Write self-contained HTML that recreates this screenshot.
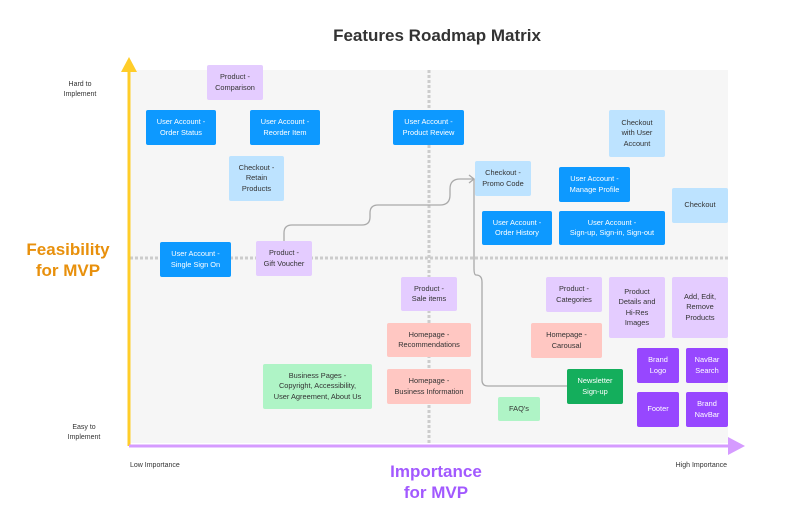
<!DOCTYPE html>
<html><head><meta charset="utf-8"><style>
*{margin:0;padding:0;box-sizing:border-box}
body{width:800px;height:523px;background:#fff;position:relative;overflow:hidden;font-family:"Liberation Sans",sans-serif}
.b{position:absolute;border-radius:2px;display:flex;align-items:center;justify-content:center;text-align:center;font-size:7.4px;line-height:10.5px;color:#333}
.d{background:#0d99ff;color:#fff}
.l{background:#bde3ff}
.p{background:#e4ccff}
.r{background:#ffc7c2}
.g{background:#aff4c6}
.G{background:#14ae5c;color:#fff}
.P{background:#9747ff;color:#fff}
.t{position:absolute;font-size:7px;color:#333;text-align:center;line-height:10px}
</style></head><body>
<div style="position:absolute;left:130px;top:70px;width:598px;height:373px;background:#f6f6f6"></div>
<svg width="800" height="523" style="position:absolute;left:0;top:0">
<line x1="429" y1="70" x2="429" y2="443" stroke="#ccc" stroke-width="3" stroke-dasharray="3,2"/>
<line x1="130" y1="258" x2="728" y2="258" stroke="#ccc" stroke-width="3" stroke-dasharray="3,2"/>
<path d="M284 241 V233 Q284 225 292 225 H362 Q370 225 370 217 V213 Q370 205 378 205 H440 Q450 205 450 195 V189 Q450 179 460 179 H474" fill="none" stroke="#aaa" stroke-width="1.3"/>
<path d="M567 386 H488 Q482 386 482 380 V282 Q482 275 476 275 Q474 275 474 268 V179" fill="none" stroke="#aaa" stroke-width="1.3"/>
<path d="M469 175 L474 179 L469 183" fill="none" stroke="#aaa" stroke-width="1.3"/>
<line x1="129" y1="446" x2="129" y2="70" stroke="#ffcd29" stroke-width="3"/>
<polygon points="121,72 129,57 137,72" fill="#ffcd29"/>
<line x1="129" y1="446" x2="730" y2="446" stroke="#d59bff" stroke-width="3"/>
<polygon points="728,437 745,446 728,455" fill="#d59bff"/>
</svg>
<div style="position:absolute;left:0;width:874px;top:26px;text-align:center;font-size:17px;font-weight:bold;color:#333">Features Roadmap Matrix</div>
<div style="position:absolute;left:18px;width:100px;top:239px;text-align:center;font-size:17px;font-weight:bold;color:#e8900c;line-height:21px">Feasibility<br>for MVP</div>
<div style="position:absolute;left:376px;width:120px;top:461px;text-align:center;font-size:17px;font-weight:bold;color:#a259ff;line-height:21px">Importance<br>for MVP</div>
<div class="t" style="left:50px;width:60px;top:80px">Hard to<br>Implement</div>
<div class="t" style="left:54px;width:60px;top:423px">Easy to<br>Implement</div>
<div class="t" style="left:130px;top:461px;text-align:left">Low Importance</div>
<div class="t" style="left:660px;width:67px;top:461px;text-align:right">High Importance</div>

<div class="b p" style="left:207px;top:65px;width:56px;height:35px">Product -<br>Comparison</div>
<div class="b d" style="left:146px;top:110px;width:70px;height:35px">User Account -<br>Order Status</div>
<div class="b d" style="left:250px;top:110px;width:70px;height:35px">User Account -<br>Reorder Item</div>
<div class="b d" style="left:393px;top:110px;width:71px;height:35px">User Account -<br>Product Review</div>
<div class="b l" style="left:229px;top:156px;width:55px;height:45px">Checkout -<br>Retain<br>Products</div>
<div class="b d" style="left:160px;top:242px;width:71px;height:35px">User Account -<br>Single Sign On</div>
<div class="b p" style="left:256px;top:241px;width:56px;height:35px">Product -<br>Gift Voucher</div>
<div class="b l" style="left:475px;top:161px;width:56px;height:35px">Checkout -<br>Promo Code</div>
<div class="b l" style="left:609px;top:110px;width:56px;height:47px">Checkout<br>with User<br>Account</div>
<div class="b d" style="left:559px;top:167px;width:71px;height:35px">User Account -<br>Manage Profile</div>
<div class="b l" style="left:672px;top:188px;width:56px;height:35px">Checkout</div>
<div class="b d" style="left:482px;top:211px;width:70px;height:34px">User Account -<br>Order History</div>
<div class="b d" style="left:559px;top:211px;width:106px;height:34px">User Account -<br>Sign-up, Sign-in, Sign-out</div>
<div class="b p" style="left:401px;top:277px;width:56px;height:34px">Product -<br>Sale items</div>
<div class="b p" style="left:546px;top:277px;width:56px;height:35px">Product -<br>Categories</div>
<div class="b p" style="left:609px;top:277px;width:56px;height:61px">Product<br>Details and<br>Hi-Res<br>Images</div>
<div class="b p" style="left:672px;top:277px;width:56px;height:61px">Add, Edit,<br>Remove<br>Products</div>
<div class="b r" style="left:387px;top:323px;width:84px;height:34px">Homepage -<br>Recommendations</div>
<div class="b r" style="left:531px;top:323px;width:71px;height:35px">Homepage -<br>Carousal</div>
<div class="b r" style="left:387px;top:369px;width:84px;height:35px">Homepage -<br>Business Information</div>
<div class="b g" style="left:263px;top:364px;width:109px;height:45px">Business Pages -<br>Copyright, Accessibility,<br>User Agreement, About Us</div>
<div class="b G" style="left:567px;top:369px;width:56px;height:35px">Newsletter<br>Sign-up</div>
<div class="b g" style="left:498px;top:397px;width:42px;height:24px">FAQ's</div>
<div class="b P" style="left:637px;top:348px;width:42px;height:35px">Brand<br>Logo</div>
<div class="b P" style="left:686px;top:348px;width:42px;height:35px">NavBar<br>Search</div>
<div class="b P" style="left:637px;top:392px;width:42px;height:35px">Footer</div>
<div class="b P" style="left:686px;top:392px;width:42px;height:35px">Brand<br>NavBar</div>
</body></html>
